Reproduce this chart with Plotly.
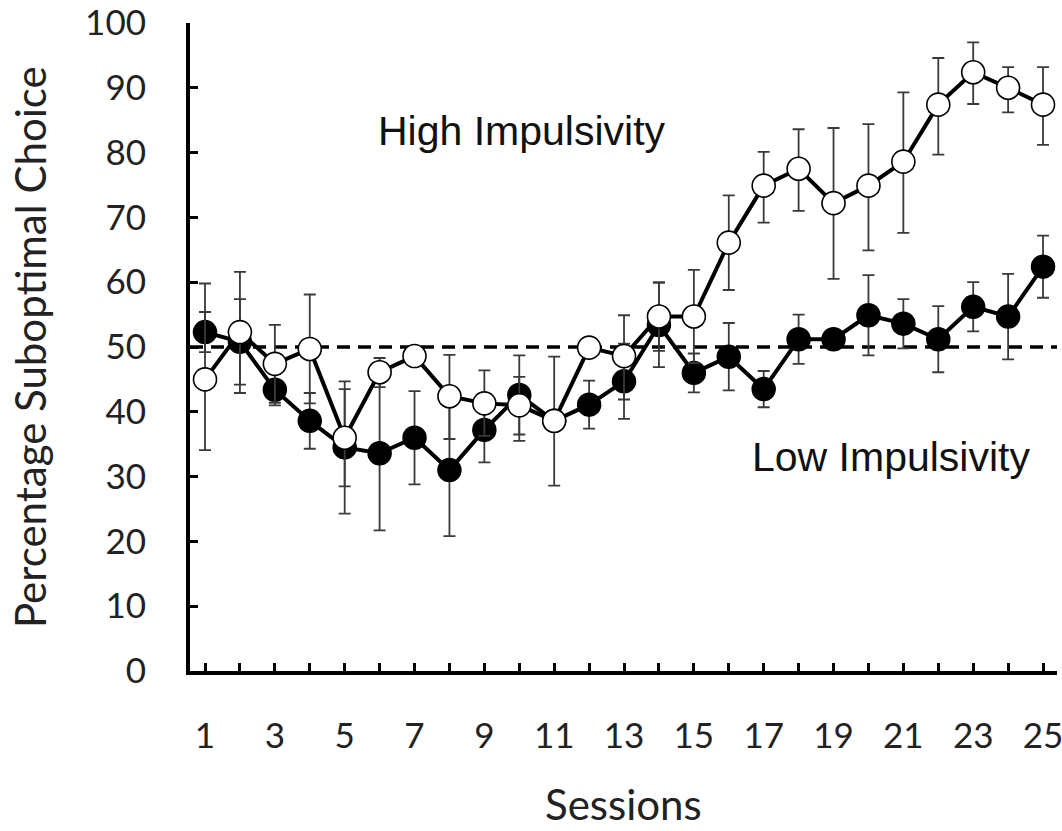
import plotly.graph_objects as go

sessions = list(range(1, 26))

high_mean = [45.0, 52.3, 47.4, 49.7, 36.0, 46.1, 48.6, 42.4, 41.3, 41.0, 38.6, 49.9, 48.6,
             54.7, 54.7, 66.1, 74.9, 77.5, 72.2, 74.9, 78.6, 87.4, 92.4, 90.0, 87.4]
high_err_up = [14.8, 9.3, 6.0, 8.4, 7.5, 2.2, 1.0, 6.4, 5.1, 4.4, 9.9, 1.0, 6.3,
               5.3, 7.2, 7.3, 5.2, 6.1, 11.6, 9.5, 10.7, 7.2, 4.6, 3.2, 5.8]
high_err_down = [10.9, 9.4, 6.0, 8.4, 7.5, 2.3, 1.0, 6.6, 5.0, 5.5, 10.0, 1.0, 6.7,
                 5.3, 7.2, 7.3, 5.7, 6.5, 11.7, 10.0, 11.0, 7.7, 4.9, 3.8, 6.2]

low_mean = [52.3, 50.8, 43.4, 38.6, 34.5, 33.6, 36.0, 31.0, 37.2, 42.6, 38.6, 41.1, 44.7,
            53.4, 46.0, 48.5, 43.5, 51.2, 51.2, 54.9, 53.6, 51.2, 56.2, 54.7, 62.4]
low_err = [3.1, 6.6, 2.4, 4.3, 10.2, 11.9, 7.2, 10.2, 5.0, 6.1, 1.0, 3.7, 5.8,
           6.5, 3.0, 5.2, 2.8, 3.8, 1.0, 6.2, 3.8, 5.1, 3.8, 6.6, 4.8]

x_tick_vals = list(range(1, 26))
x_tick_text = [str(s) if s % 2 == 1 else "" for s in x_tick_vals]
y_tick_vals = [0, 10, 20, 30, 40, 50, 60, 70, 80, 90, 100]

chance_level = 50

AX_FONT = "Lato, Noto Sans, sans-serif"
ANN_FONT = "Liberation Sans, Arial, sans-serif"

fig = go.Figure()

fig.add_trace(go.Scatter(
    x=sessions, y=low_mean, mode="lines+markers", name="Low Impulsivity",
    line=dict(color="black", width=4),
    marker=dict(symbol="circle", size=23, color="black", line=dict(color="black", width=1.5)),
    error_y=dict(type="data", array=low_err, visible=True, color="#3a3a3a", thickness=1.8, width=6),
))
fig.add_trace(go.Scatter(
    x=sessions, y=high_mean, mode="lines+markers", name="High Impulsivity",
    line=dict(color="black", width=4),
    marker=dict(symbol="circle", size=23, color="white", line=dict(color="black", width=1.6)),
    error_y=dict(type="data", symmetric=False, array=high_err_up, arrayminus=high_err_down,
                 visible=True, color="#3a3a3a", thickness=1.8, width=6),
))

fig.add_shape(type="line", xref="paper", yref="y", x0=0, x1=1, y0=chance_level, y1=chance_level,
              line=dict(color="black", width=3.5, dash="13px,8px"), layer="below")

fig.add_annotation(x=10.08, y=83.3, xref="x", yref="y", text="High Impulsivity", showarrow=False,
                   font=dict(family=ANN_FONT, size=41, color="#111"))
fig.add_annotation(x=20.66, y=33.0, xref="x", yref="y", text="Low Impulsivity", showarrow=False,
                   font=dict(family=ANN_FONT, size=41, color="#111"))

# axis titles
fig.add_annotation(x=0, y=0.5, xref="paper", yref="paper", xshift=-160, text="Percentage Suboptimal Choice",
                   textangle=-90, showarrow=False, xanchor="center", yanchor="middle",
                   font=dict(family=AX_FONT, size=42, color="#222"))
fig.add_annotation(x=0.5, y=0, xref="paper", yref="paper", yshift=-133, text="Sessions",
                   showarrow=False, xanchor="center", yanchor="middle",
                   font=dict(family=AX_FONT, size=42, color="#222"))

fig.update_layout(
    width=1062, height=831,
    margin=dict(l=190, r=5, t=23, b=160, autoexpand=False),
    paper_bgcolor="white", plot_bgcolor="white",
    showlegend=False,
    font=dict(family=AX_FONT, size=26, color="#222"),
    xaxis=dict(
        range=[0.57, 25.4], tickmode="array", tickvals=x_tick_vals, ticktext=x_tick_text,
        ticks="inside", ticklen=8, tickwidth=3, tickcolor="black",
        showline=True, linecolor="black", linewidth=4, showgrid=False, zeroline=False,
        ticklabelstandoff=31, automargin=False, ticklabeloverflow="allow",
        tickfont=dict(size=35, family=AX_FONT, color="#222"),
    ),
    yaxis=dict(
        range=[0, 100], tickmode="array", tickvals=y_tick_vals,
        ticks="inside", ticklen=8, tickwidth=3, tickcolor="black",
        showline=True, linecolor="black", linewidth=4, showgrid=False, zeroline=False,
        ticklabelstandoff=33, automargin=False, ticklabeloverflow="allow",
        tickfont=dict(size=35, family=AX_FONT, color="#222"),
    ),
)

fig.write_html("out.html", config={"displayModeBar": False},
               post_script="document.body.style.margin='0';document.body.style.padding='0';")
